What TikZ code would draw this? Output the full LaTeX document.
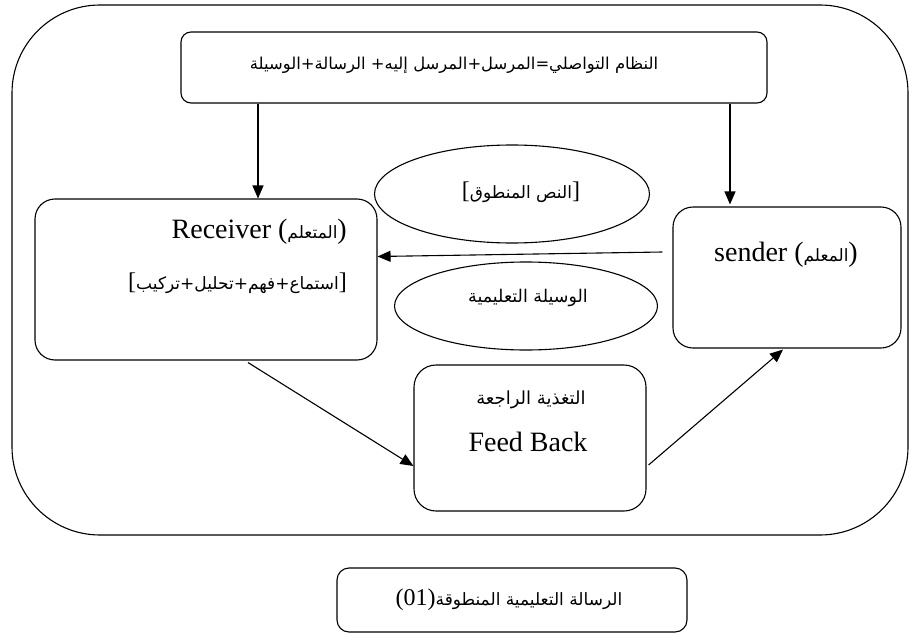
\documentclass[tikz,border=0pt]{standalone}
\usepackage{fontspec}
\setmainfont{Liberation Serif}
\newfontfamily\arabicfont[Script=Arabic]{DejaVu Sans}
\TeXXeTstate=1
\usetikzlibrary{arrows.meta,shapes.geometric,calc}
\newcommand{\arb}[2][17]{{\arabicfont\fontsize{#1}{22}\selectfont\beginR #2\endR}}
\tikzset{
  boxst/.style={draw,line width=1.1pt,rounded corners=#1,inner sep=0pt},
  boxst/.default=20pt,
  ellst/.style={draw,ellipse,line width=1.1pt,inner sep=0pt},
  arr/.style={line width=1.1pt,-{Triangle[length=13pt,width=11pt]}},
  lat/.style={font=\fontsize{28}{32}\selectfont,inner sep=0pt},
  ara/.style={font=\fontsize{24}{28}\selectfont,inner sep=0pt},
}
\begin{document}
\begin{tikzpicture}[x=1pt,y=-1pt]
\useasboundingbox (0,0) rectangle (910,634);
% outer frame
\node[boxst=88pt,minimum width=896pt,minimum height=530pt] (outer) at (460,270) {};
% boxes
\node[boxst=10pt,minimum width=586pt,minimum height=71pt] (top) at (474,67.5) {};
\node[boxst=20pt,minimum width=342pt,minimum height=161pt] (receiver) at (206,279.5) {};
\node[boxst=20pt,minimum width=228pt,minimum height=141pt] (sender) at (787,277.5) {};
\node[boxst=22pt,minimum width=232pt,minimum height=146pt] (feedback) at (530,438) {};
\node[boxst=12pt,minimum width=350pt,minimum height=64pt] (bottom) at (512,600) {};
\node[ellst,minimum width=275pt,minimum height=98pt] (ell1) at (512,194) {};
\node[ellst,minimum width=263pt,minimum height=88pt] (ell2) at (526,306) {};
% texts
\node[ara] (ttop) at (454,65) {\arb[16.4]{النظام التواصلي=المرسل+المرسل إليه+ الرسالة+الوسيلة}};
\node[lat,anchor=east] (trec1) at (347,232) {Receiver (\arb{المتعلم})};
\node[ara,anchor=east] (trec2) at (347,283) {[\arb{استماع+فهم+تحليل+تركيب}]};
\node[ara] (tell1) at (521,192) {[\arb{النص المنطوق}]};
\node[ara] (tell2) at (528,298) {\arb[17.5]{الوسيلة التعليمية}};
\node[ara] (tfb1) at (531,400) {\arb[18]{التغذية الراجعة}};
\node[lat] (tfb2) at (528,442) {Feed Back};
\node[lat] (tsend) at (786,255) {sender (\arb{المعلم})};
\node[ara] (tbot) at (509,600) {(01)\arb{الرسالة التعليمية المنطوقة}};
% arrows
\coordinate (ca) at (258,0);
\coordinate (cb) at (730,0);
\draw[arr] (top.south -| ca) -- (receiver.north -| ca);
\draw[arr] (top.south -| cb) -- ([yshift=2pt]sender.north -| cb);
\draw[arr] ([shift={(-10,-25.5)}]sender.west) -- ([shift={(0,-23)}]receiver.east);
\draw[arr] ([shift={(42,2)}]receiver.south) -- ([shift={(0,28)}]feedback.west);
\draw[arr] ([shift={(2,27)}]feedback.east) -- ([shift={(-4,1)}]sender.south);
\end{tikzpicture}
\end{document}
